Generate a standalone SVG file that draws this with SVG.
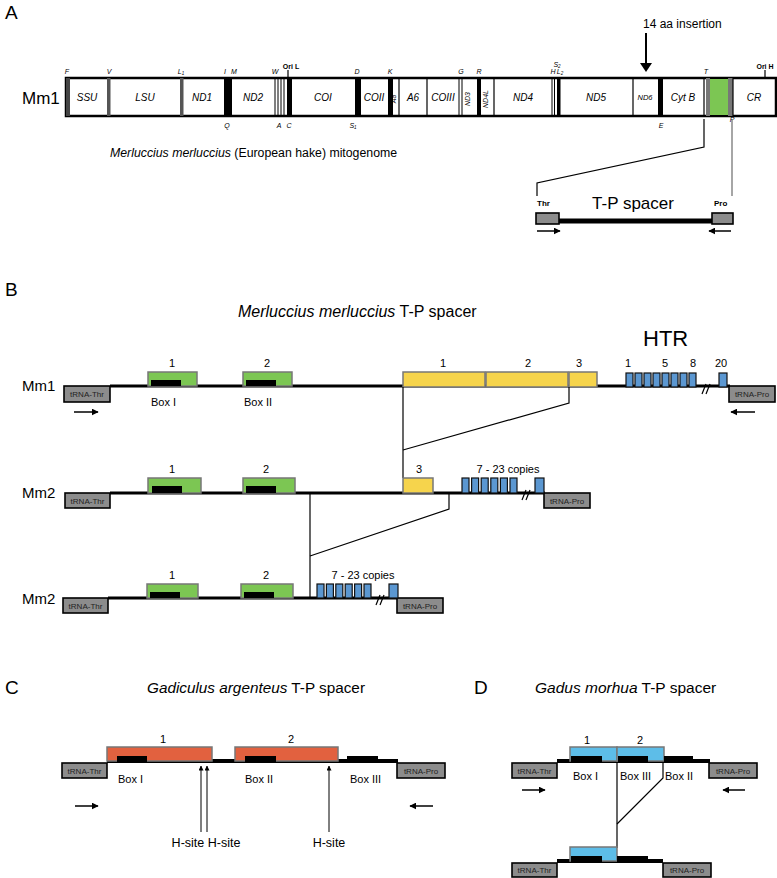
<svg xmlns="http://www.w3.org/2000/svg" width="777" height="878" viewBox="0 0 777 878">
<defs>
<marker id="ah" viewBox="0 0 10 10" refX="9" refY="5" markerWidth="7" markerHeight="7" markerUnits="userSpaceOnUse" orient="auto"><path d="M0,0 L10,5 L0,10 z" fill="#000"/></marker>
<marker id="ahs" viewBox="0 0 10 10" refX="9" refY="5" markerWidth="5" markerHeight="5" markerUnits="userSpaceOnUse" orient="auto"><path d="M0,0 L10,5 L0,10 z" fill="#000"/></marker>
</defs>
<style>
text{font-family:"Liberation Sans",Arial,Helvetica,sans-serif;fill:#000}
.pl{font-size:19px}
.it{font-style:italic}
.gn{font-size:10px;font-style:italic;text-anchor:middle}
.tg{font-size:7px;font-style:italic;text-anchor:middle;fill:#000}
.ori{font-size:7px;font-weight:bold;text-anchor:middle}
.trna{fill:#8c8c8c;stroke:#000;stroke-width:1.6}
.tt{font-size:8px;fill:#222;text-anchor:middle}
.ln{stroke:#000;stroke-width:3;fill:none}
.ln4{stroke:#000;stroke-width:4;fill:none}
.thin{stroke:#000;stroke-width:1.2;fill:none}
.grn{fill:#7cc653;stroke:#777;stroke-width:1.5}
.yel{fill:#f6d44c;stroke:#777;stroke-width:1.5}
.htr{fill:#5b97d1;stroke:#111;stroke-width:1.2}
.red{fill:#e2613f;stroke:#777;stroke-width:1.5}
.cy{fill:#5dbde8;stroke:#777;stroke-width:1.5}
.blk{fill:#000}
.num{font-size:11px;text-anchor:middle}
.box{font-size:11px}
.arr{stroke:#000;stroke-width:1.5;fill:none;marker-end:url(#ah)}
.harr{stroke:#000;stroke-width:1;fill:none;marker-end:url(#ahs)}
.mm{font-size:15px}
</style>

<!-- ============ PANEL A ============ -->
<text class="pl" x="5" y="19">A</text>
<text x="643" y="28" style="font-size:12px">14 aa insertion</text>
<g id="insertion-arrow">
<line x1="646" y1="33" x2="646" y2="64" stroke="#000" stroke-width="2"/>
<polygon points="640,63 652,63 646,72" fill="#000"/>
</g>
<text class="mm" x="22" y="104" style="font-size:17px">Mm1</text>

<g id="genome">
<rect x="66" y="78" width="710" height="38" fill="#fff" stroke="#000" stroke-width="2.5"/>
<rect x="66" y="78" width="4" height="38" fill="#444"/>
<rect x="107" y="78" width="3.5" height="38" fill="#555"/>
<rect x="180" y="78" width="3.5" height="38" fill="#555"/>
<rect x="224" y="78" width="8" height="38" fill="#000"/>
<line x1="275" y1="78" x2="275" y2="116" stroke="#000" stroke-width="1"/>
<line x1="278" y1="78" x2="278" y2="116" stroke="#000" stroke-width="1"/>
<line x1="281" y1="78" x2="281" y2="116" stroke="#000" stroke-width="1"/>
<line x1="284" y1="78" x2="284" y2="116" stroke="#000" stroke-width="1"/>
<rect x="287" y="78" width="5" height="38" fill="#000"/>
<rect x="355" y="78" width="6" height="38" fill="#000"/>
<rect x="388" y="78" width="5" height="38" fill="#000"/>
<line x1="399" y1="78" x2="399" y2="116" stroke="#000" stroke-width="1.2"/>
<line x1="427" y1="78" x2="427" y2="116" stroke="#000" stroke-width="1.2"/>
<line x1="459" y1="78" x2="459" y2="116" stroke="#000" stroke-width="1"/>
<line x1="462" y1="78" x2="462" y2="116" stroke="#000" stroke-width="1"/>
<rect x="477" y="78" width="4" height="38" fill="#000"/>
<line x1="494" y1="78" x2="494" y2="116" stroke="#000" stroke-width="1.2"/>
<line x1="552" y1="78" x2="552" y2="116" stroke="#000" stroke-width="1"/>
<line x1="554.5" y1="78" x2="554.5" y2="116" stroke="#000" stroke-width="1"/>
<rect x="557" y="78" width="3.5" height="38" fill="#000"/>
<line x1="633" y1="78" x2="633" y2="116" stroke="#000" stroke-width="1.2"/>
<rect x="658" y="78" width="5" height="38" fill="#000"/>
<line x1="704" y1="78" x2="704" y2="116" stroke="#000" stroke-width="1.2"/>
<rect x="706" y="78" width="4" height="38" fill="#777"/>
<rect x="710" y="79" width="18" height="36" fill="#7cc653"/>
<rect x="728" y="78" width="5" height="38" fill="#777"/>
<line x1="733" y1="78" x2="733" y2="116" stroke="#000" stroke-width="1.2"/>
<text class="gn" x="87" y="101">SSU</text>
<text class="gn" x="145" y="101">LSU</text>
<text class="gn" x="202" y="101">ND1</text>
<text class="gn" x="253" y="101">ND2</text>
<text class="gn" x="323" y="101">COI</text>
<text class="gn" x="374" y="101">COII</text>
<text class="tg" x="396" y="99" transform="rotate(-90 396 99)">A8</text>
<text class="gn" x="413" y="101">A6</text>
<text class="gn" x="443" y="101">COIII</text>
<text class="tg" x="470" y="99" transform="rotate(-90 470 99)">ND3</text>
<text class="tg" x="488" y="99" transform="rotate(-90 488 99)">ND4L</text>
<text class="gn" x="523" y="101">ND4</text>
<text class="gn" x="596" y="101">ND5</text>
<text class="gn" x="645" y="100" style="font-size:7.5px">ND6</text>
<text class="gn" x="683" y="101">Cyt B</text>
<text class="gn" x="754" y="101">CR</text>
<text class="tg" x="67" y="74">F</text>
<text class="tg" x="109" y="74">V</text>
<text class="tg" x="181" y="74">L<tspan font-size="4.5" dy="1">1</tspan></text>
<text class="tg" x="225" y="74">I</text>
<text class="tg" x="234" y="74">M</text>
<text class="tg" x="275" y="74">W</text>
<text class="ori" x="291" y="69">Ori L</text>
<line x1="288" y1="70" x2="288" y2="78" stroke="#000" stroke-width="1.2"/>
<text class="tg" x="357" y="74">D</text>
<text class="tg" x="390" y="74">K</text>
<text class="tg" x="461" y="74">G</text>
<text class="tg" x="479" y="74">R</text>
<text class="tg" x="557" y="67">S<tspan font-size="4.5" dy="1">2</tspan></text>
<text class="tg" x="553" y="74">H</text>
<text class="tg" x="560" y="74">L<tspan font-size="4.5" dy="1">2</tspan></text>
<text class="tg" x="706" y="74">T</text>
<text class="ori" x="765" y="69">Ori H</text>
<line x1="765" y1="70" x2="765" y2="78" stroke="#000" stroke-width="1.2"/>
<text class="tg" x="227" y="128">Q</text>
<text class="tg" x="279" y="128">A</text>
<text class="tg" x="289" y="128">C</text>
<text class="tg" x="353" y="128">S<tspan font-size="4.5" dy="1">1</tspan></text>
<text class="tg" x="661" y="128">E</text>
<text class="tg" x="732" y="122">P</text>
</g>

<text x="110" y="157" style="font-size:12.3px"><tspan class="it">Merluccius merluccius</tspan> (European hake) mitogenome</text>

<g id="connectors-a">
<polyline class="thin" points="704,119 704,147 537,183 537,196"/>
<line x1="732" y1="120" x2="732" y2="196" stroke="#888" stroke-width="1.5"/>
</g>

<g id="tp-inset">
<text x="537" y="206" style="font-size:8px;font-weight:bold">Thr</text>
<text x="714" y="206" style="font-size:8px;font-weight:bold">Pro</text>
<text x="633" y="209" style="font-size:17px;text-anchor:middle">T-P spacer</text>
<line x1="558" y1="221" x2="713" y2="221" stroke="#000" stroke-width="5"/>
<rect class="trna" x="536" y="213" width="23" height="11"/>
<rect class="trna" x="712" y="213" width="21" height="11"/>
<line class="arr" x1="537" y1="231" x2="560" y2="231"/>
<line class="arr" x1="731" y1="231" x2="709" y2="231"/>
</g>

<!-- ============ PANEL B ============ -->
<text class="pl" x="5" y="296">B</text>
<text x="238" y="317" style="font-size:16px"><tspan class="it">Merluccius merluccius</tspan> T-P spacer</text>
<text x="643" y="346" style="font-size:22px">HTR</text>

<g id="mm1-row">
<text class="mm" x="22" y="391">Mm1</text>
<line class="ln" x1="110" y1="386" x2="730" y2="386"/>
<rect class="trna" x="64" y="386" width="46" height="16"/>
<text class="tt" x="87" y="397">tRNA-Thr</text>
<rect class="trna" x="729" y="386" width="46" height="16"/>
<text class="tt" x="752" y="397">tRNA-Pro</text>
<rect class="grn" x="148" y="372" width="49" height="14"/>
<rect class="blk" x="151" y="380" width="30" height="6"/>
<rect class="grn" x="243" y="372" width="49" height="14"/>
<rect class="blk" x="246" y="380" width="30" height="6"/>
<text class="num" x="172" y="367">1</text>
<text class="num" x="267" y="367">2</text>
<text class="box" x="151" y="406">Box I</text>
<text class="box" x="244" y="406">Box II</text>
<rect class="yel" x="403" y="372" width="82" height="15"/>
<rect class="yel" x="486" y="372" width="82" height="15"/>
<rect class="yel" x="569" y="372" width="28" height="15"/>
<text class="num" x="443" y="367">1</text>
<text class="num" x="528" y="367">2</text>
<text class="num" x="579" y="367">3</text>
<rect class="htr" x="626" y="373" width="7" height="14"/>
<rect class="htr" x="635" y="373" width="7" height="14"/>
<rect class="htr" x="644" y="373" width="7" height="14"/>
<rect class="htr" x="653" y="373" width="7" height="14"/>
<rect class="htr" x="662" y="373" width="7" height="14"/>
<rect class="htr" x="671" y="373" width="7" height="14"/>
<rect class="htr" x="680" y="373" width="7" height="14"/>
<rect class="htr" x="689" y="373" width="7" height="14"/>
<rect class="htr" x="719" y="373" width="8" height="14"/>
<line x1="702" y1="394" x2="706" y2="384" stroke="#000" stroke-width="1.2"/>
<line x1="706" y1="394" x2="710" y2="384" stroke="#000" stroke-width="1.2"/>
<text class="num" x="628" y="367">1</text>
<text class="num" x="665" y="367">5</text>
<text class="num" x="693" y="367">8</text>
<text class="num" x="721" y="367">20</text>
<line class="arr" x1="74" y1="412" x2="98" y2="412"/>
<line class="arr" x1="755" y1="412" x2="731" y2="412"/>
</g>

<g id="connectors-b">
<line class="thin" x1="403" y1="387" x2="403" y2="478"/>
<polyline class="thin" points="569,387 569,403 403,450"/>
<polyline class="thin" points="449,493 449,509 310,556"/>
<line class="thin" x1="310" y1="493" x2="310" y2="598"/>
</g>

<g id="mm2-row1">
<text class="mm" x="22" y="498">Mm2</text>
<line class="ln" x1="110" y1="493" x2="545" y2="493"/>
<rect class="trna" x="65" y="493" width="45" height="15"/>
<text class="tt" x="87.5" y="503.5">tRNA-Thr</text>
<rect class="trna" x="544" y="493" width="46" height="15"/>
<text class="tt" x="567" y="503.5">tRNA-Pro</text>
<rect class="grn" x="148" y="478" width="53" height="15"/>
<rect class="blk" x="152" y="486" width="30" height="7"/>
<rect class="grn" x="243" y="478" width="52" height="15"/>
<rect class="blk" x="246" y="486" width="30" height="7"/>
<rect class="yel" x="403" y="478" width="30" height="15"/>
<text class="num" x="172" y="473">1</text>
<text class="num" x="266" y="473">2</text>
<text class="num" x="419" y="473">3</text>
<text class="num" x="508" y="473">7 - 23 copies</text>
<rect class="htr" x="462" y="478" width="7" height="15"/>
<rect class="htr" x="471.6" y="478" width="7" height="15"/>
<rect class="htr" x="481.2" y="478" width="7" height="15"/>
<rect class="htr" x="490.8" y="478" width="7" height="15"/>
<rect class="htr" x="500.4" y="478" width="7" height="15"/>
<rect class="htr" x="510" y="478" width="7" height="15"/>
<rect class="htr" x="535" y="478" width="9" height="15"/>
<line x1="522" y1="500" x2="526" y2="490" stroke="#000" stroke-width="1.2"/>
<line x1="526" y1="500" x2="530" y2="490" stroke="#000" stroke-width="1.2"/>
</g>

<g id="mm2-row2">
<text class="mm" x="22" y="604">Mm2</text>
<line class="ln" x1="108" y1="598" x2="398" y2="598"/>
<rect class="trna" x="63" y="598" width="45" height="15"/>
<text class="tt" x="85.5" y="608.5">tRNA-Thr</text>
<rect class="trna" x="397" y="598" width="46" height="15"/>
<text class="tt" x="420" y="608.5">tRNA-Pro</text>
<rect class="grn" x="147" y="584" width="51" height="14"/>
<rect class="blk" x="150" y="592" width="30" height="6"/>
<rect class="grn" x="241" y="584" width="52" height="14"/>
<rect class="blk" x="244" y="592" width="30" height="6"/>
<text class="num" x="172" y="579">1</text>
<text class="num" x="266" y="579">2</text>
<text class="num" x="363" y="579">7 - 23 copies</text>
<rect class="htr" x="317" y="584" width="7" height="14"/>
<rect class="htr" x="326.4" y="584" width="7" height="14"/>
<rect class="htr" x="335.8" y="584" width="7" height="14"/>
<rect class="htr" x="345.2" y="584" width="7" height="14"/>
<rect class="htr" x="354.6" y="584" width="7" height="14"/>
<rect class="htr" x="364" y="584" width="7" height="14"/>
<rect class="htr" x="389" y="584" width="9" height="14"/>
<line x1="376" y1="605" x2="380" y2="595" stroke="#000" stroke-width="1.2"/>
<line x1="380" y1="605" x2="384" y2="595" stroke="#000" stroke-width="1.2"/>
</g>

<!-- ============ PANEL C ============ -->
<text class="pl" x="5" y="694">C</text>
<text x="147" y="693" style="font-size:15.3px"><tspan class="it">Gadiculus argenteus</tspan> T-P spacer</text>
<g id="gadiculus">
<line class="ln4" x1="107" y1="761" x2="398" y2="761"/>
<rect class="trna" x="62" y="763" width="45" height="15"/>
<text class="tt" x="84.5" y="773.5">tRNA-Thr</text>
<rect class="trna" x="397" y="763" width="48" height="15"/>
<text class="tt" x="421" y="773.5">tRNA-Pro</text>
<rect class="red" x="107" y="747" width="105" height="14"/>
<rect class="blk" x="117" y="756" width="30" height="7"/>
<rect class="red" x="235" y="747" width="103" height="14"/>
<rect class="blk" x="245" y="756" width="31" height="7"/>
<rect class="blk" x="347" y="756" width="31" height="7"/>
<text class="num" x="163" y="743">1</text>
<text class="num" x="291" y="743">2</text>
<text class="box" x="118" y="783">Box I</text>
<text class="box" x="245" y="783">Box II</text>
<text class="box" x="350" y="783">Box III</text>
<line class="harr" x1="201" y1="832" x2="201" y2="766"/>
<line class="harr" x1="207" y1="832" x2="207" y2="766"/>
<line class="harr" x1="329" y1="832" x2="329" y2="766"/>
<text x="206" y="847" style="font-size:12.5px;text-anchor:middle">H-site H-site</text>
<text x="329" y="847" style="font-size:12.5px;text-anchor:middle">H-site</text>
<line class="arr" x1="75" y1="806" x2="98" y2="806"/>
<line class="arr" x1="433" y1="806" x2="410" y2="806"/>
</g>

<!-- ============ PANEL D ============ -->
<text class="pl" x="474" y="694">D</text>
<text x="535" y="693" style="font-size:15.5px"><tspan class="it">Gadus morhua</tspan> T-P spacer</text>
<g id="gadus-top">
<line class="ln4" x1="557" y1="761" x2="710" y2="761"/>
<rect class="trna" x="512" y="763" width="45" height="15"/>
<text class="tt" x="534.5" y="773.5">tRNA-Thr</text>
<rect class="trna" x="709" y="763" width="48" height="15"/>
<text class="tt" x="733" y="773.5">tRNA-Pro</text>
<rect class="cy" x="570" y="747" width="47" height="14"/>
<rect class="cy" x="617" y="747" width="47" height="14"/>
<rect class="blk" x="571" y="756" width="31" height="7"/>
<rect class="blk" x="618" y="756" width="30" height="7"/>
<rect class="blk" x="664" y="756" width="29" height="7"/>
<text class="num" x="587" y="744">1</text>
<text class="num" x="640" y="744">2</text>
<text class="box" x="573" y="780">Box I</text>
<text class="box" x="620" y="780">Box III</text>
<text class="box" x="665" y="780">Box II</text>
<line class="arr" x1="522" y1="790" x2="545" y2="790"/>
<line class="arr" x1="745" y1="790" x2="723" y2="790"/>
</g>
<g id="connectors-d">
<line class="thin" x1="617" y1="763" x2="617" y2="848"/>
<polyline class="thin" points="663,763 663,778 617,824"/>
</g>
<g id="gadus-bottom">
<line class="ln4" x1="557" y1="861" x2="663" y2="861"/>
<rect class="trna" x="512" y="863" width="45" height="14"/>
<text class="tt" x="534.5" y="873">tRNA-Thr</text>
<rect class="trna" x="663" y="863" width="48" height="14"/>
<text class="tt" x="687" y="873">tRNA-Pro</text>
<rect class="cy" x="570" y="847" width="47" height="14"/>
<rect class="blk" x="571" y="856" width="31" height="7"/>
<rect class="blk" x="617" y="856" width="31" height="7"/>
</g>
</svg>
